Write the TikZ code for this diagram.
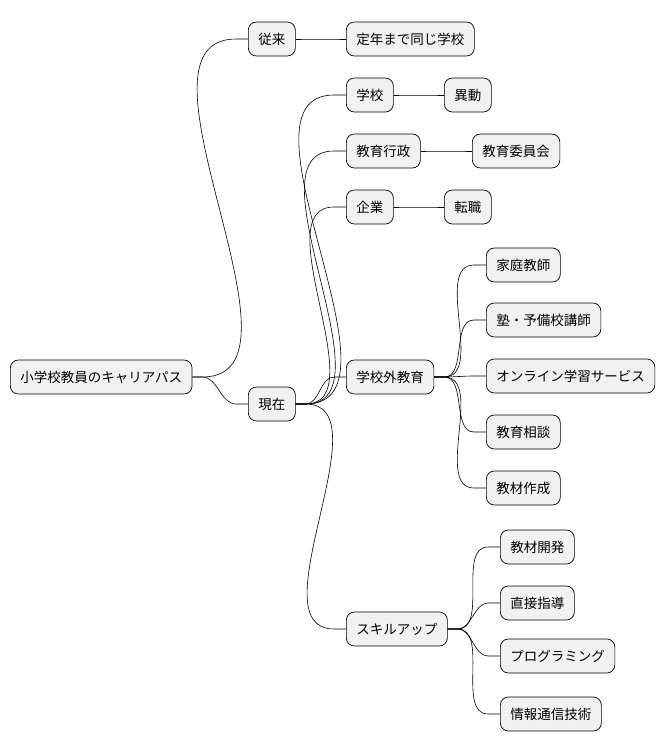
\documentclass[tikz,border=0pt]{standalone}
\usepackage{fontspec}
\setmainfont{Noto Sans CJK JP}
\usetikzlibrary{calc}
\begin{document}
\begin{tikzpicture}[x=1pt,y=-1pt,
  box/.style={draw=black,line width=0.7pt,fill={rgb,255:red,241;green,241;blue,241},rounded corners=8pt,minimum height=34pt,inner xsep=10pt,font=\fontsize{13.5}{16}\selectfont},
  con/.style={line width=0.6pt}]
\useasboundingbox (0,0) rectangle (670,752);
\node[box,anchor=west] (r) at (10,377) {小学校教員のキャリアパス};
\node[box,anchor=west] (j) at (248,39) {従来};
\node[box,anchor=west] (j1) at (346,39) {定年まで同じ学校};
\node[box,anchor=west] (g) at (248,404) {現在};
\node[box,anchor=west] (a) at (346,95) {学校};
\node[box,anchor=west] (a1) at (444,95) {異動};
\node[box,anchor=west] (b) at (346,151) {教育行政};
\node[box,anchor=west] (b1) at (472,151) {教育委員会};
\node[box,anchor=west] (c) at (346,207) {企業};
\node[box,anchor=west] (c1) at (444,207) {転職};
\node[box,anchor=west] (d) at (346,377) {学校外教育};
\node[box,anchor=west] (d1) at (486,265) {家庭教師};
\node[box,anchor=west] (d2) at (486,320) {塾・予備校講師};
\node[box,anchor=west] (d3) at (486,376) {オンライン学習サービス};
\node[box,anchor=west] (d4) at (486,432) {教育相談};
\node[box,anchor=west] (d5) at (486,488) {教材作成};
\node[box,anchor=west] (e) at (346,629) {スキルアップ};
\node[box,anchor=west] (e1) at (500,547) {教材開発};
\node[box,anchor=west] (e2) at (500,603) {直接指導};
\node[box,anchor=west] (e3) at (500,656) {プログラミング};
\node[box,anchor=west] (e4) at (500,714) {情報通信技術};
\foreach \p/\c in {r/j,r/g,j/j1,g/a,g/b,g/c,g/d,g/e,a/a1,b/b1,c/c1,d/d1,d/d2,d/d3,d/d4,d/d5,e/e1,e/e2,e/e3,e/e4}
  \draw[con] (\p.east) -- ++(10,0) to[out=0,in=180,looseness=0.9] ($(\c.west)+(-12,0)$) -- (\c.west);
\end{tikzpicture}
\end{document}
